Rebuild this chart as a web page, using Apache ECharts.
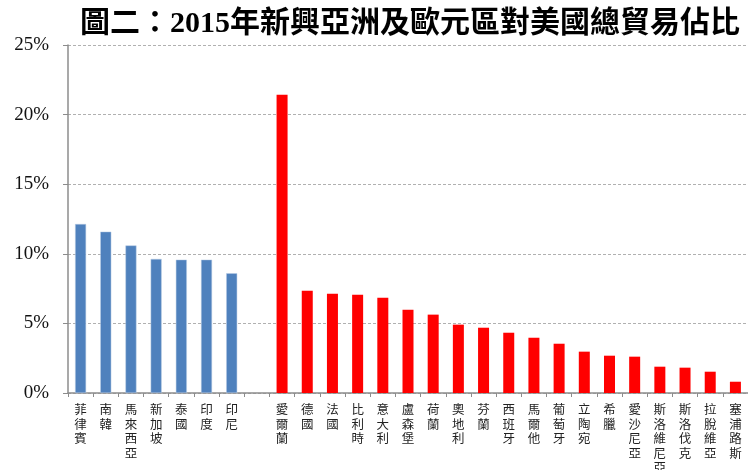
<!DOCTYPE html>
<html>
<head>
<meta charset="utf-8">
<script src="https://cdn.jsdelivr.net/npm/echarts@6/dist/echarts.min.js"></script>
<style>
  html, body { margin: 0; padding: 0; background: #fff; }
  #chart { width: 748px; height: 470px; }
</style>
</head>
<body>
<div id="chart"></div>
<script>
// 新興亞洲
var asiaNames = ['菲律賓', '南韓', '馬來西亞', '新加坡', '泰國', '印度', '印尼']
var asiaValues = [12.14, 11.59, 10.6, 9.63, 9.58, 9.58, 8.6]
// 歐元區
var euroNames = ['愛爾蘭', '德國', '法國', '比利時', '意大利', '盧森堡', '荷蘭', '奧地利', '芬蘭', '西班牙',
  '馬爾他', '葡萄牙', '立陶宛', '希臘', '愛沙尼亞', '斯洛維尼亞', '斯洛伐克', '拉脫維亞', '塞浦路斯']
var euroValues = [21.43, 7.35, 7.13, 7.06, 6.85, 5.98, 5.63, 4.91, 4.69, 4.33,
  3.97, 3.54, 2.97, 2.68, 2.61, 1.89, 1.82, 1.53, 0.81]
var yTicks = [0, 5, 10, 15, 20, 25]

// 兩組之間空一格
var categories = asiaNames.concat([''], euroNames)
var asiaData = asiaValues.concat(categories.slice(asiaNames.length).map(function () { return '-' }))
var euroData = asiaNames.concat(['']).map(function () { return '-' }).concat(euroValues)

var serif = '"Liberation Serif", "Times New Roman", "Noto Sans CJK TC", serif'
var myChart = echarts.init(document.getElementById('chart'))
myChart.setOption({
  animation: false,
  title: {
    text: '圖二：2015年新興亞洲及歐元區對美國總貿易佔比',
    left: 405,
    textAlign: 'center',
    top: 4,
    textStyle: {
      fontFamily: serif,
      fontSize: 30,
      fontWeight: 'bold',
      color: '#000'
    }
  },
  grid: {
    left: 68,
    right: 0,
    top: 45,
    bottom: 77,
    outerBoundsMode: 'none'
  },
  xAxis: {
    type: 'category',
    data: categories,
    axisLine: { lineStyle: { color: '#8c8c8c', width: 1.5 } },
    axisTick: { show: true, length: 4, lineStyle: { color: '#8c8c8c' } },
    axisLabel: {
      interval: 0,
      margin: 9,
      fontFamily: '"Noto Sans CJK TC", sans-serif',
      fontSize: 12.5,
      lineHeight: 14.5,
      color: '#222',
      formatter: function (v) { return v.split('').join('\n') }
    }
  },
  yAxis: {
    type: 'value',
    min: 0,
    max: 25,
    interval: 5,
    axisLine: { show: true, lineStyle: { color: '#8c8c8c', width: 1.5 } },
    axisTick: { show: true, length: 5, lineStyle: { color: '#8c8c8c' } },
    axisLabel: {
      margin: 19,
      fontFamily: serif,
      fontSize: 19,
      color: '#111',
      formatter: function (v) { return yTicks.indexOf(v) >= 0 ? v + '%' : '' }
    },
    splitLine: {
      show: true,
      lineStyle: { color: '#b0b0b0', type: [3, 2], width: 1 }
    }
  },
  series: [
    {
      name: '新興亞洲',
      type: 'bar',
      data: asiaData,
      barWidth: 11,
      barGap: '-100%',
      itemStyle: { color: '#4f81bd', borderColor: '#b9cde5', borderWidth: 0.5 }
    },
    {
      name: '歐元區',
      type: 'bar',
      data: euroData,
      barWidth: 11,
      itemStyle: { color: '#ff0000' }
    }
  ]
})
</script>
</body>
</html>
